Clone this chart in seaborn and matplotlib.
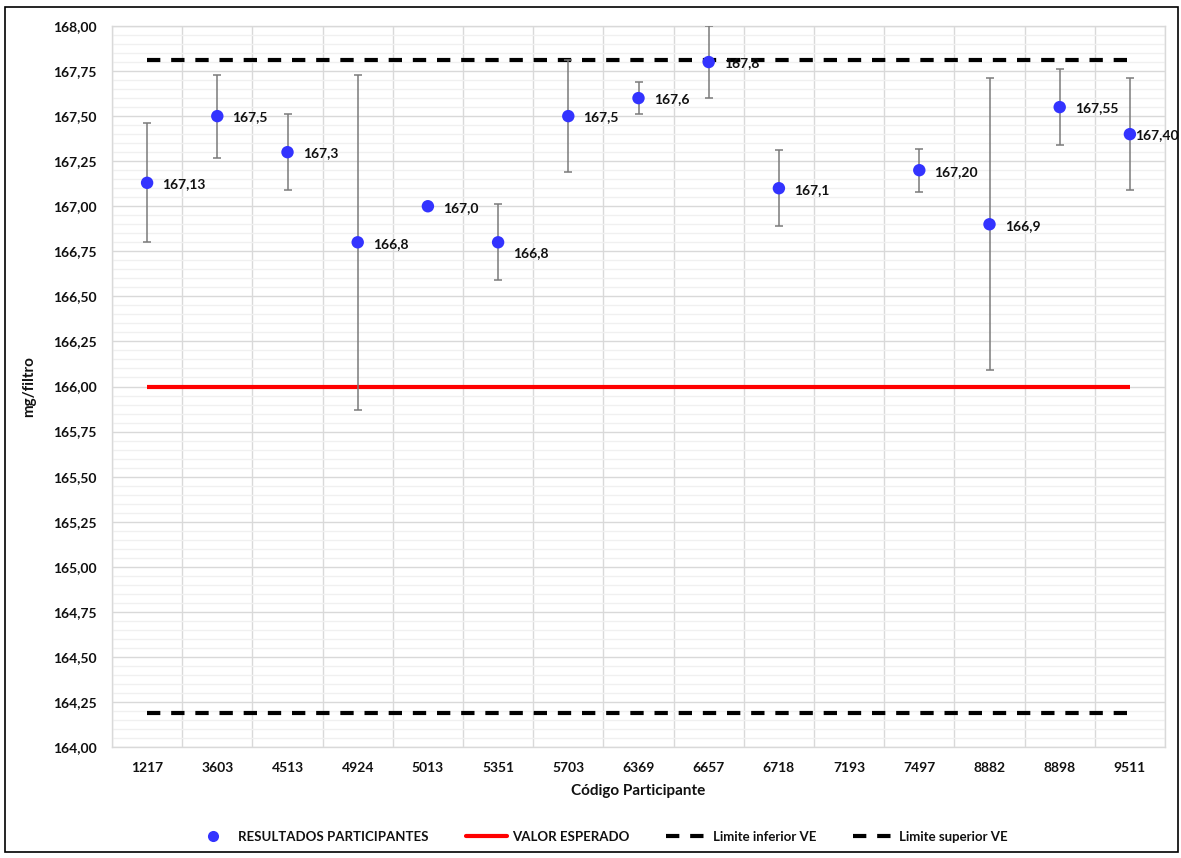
import numpy as np
import pandas as pd
import matplotlib
matplotlib.use("Agg")
import matplotlib.pyplot as plt
import seaborn as sns
from matplotlib.ticker import MultipleLocator, FuncFormatter, FixedLocator
from matplotlib.lines import Line2D
from matplotlib.patches import Rectangle

# ---- data ----
codes = ["1217", "3603", "4513", "4924", "5013", "5351", "5703", "6369",
         "6657", "6718", "7193", "7497", "8882", "8898", "9511"]
results = [167.13, 167.5, 167.3, 166.8, 167.0, 166.8, 167.5, 167.6,
           167.8, 167.1, np.nan, 167.2, 166.9, 167.55, 167.40]
err_low = [166.80, 167.27, 167.09, 165.87, np.nan, 166.59, 167.19, 167.51,
           167.60, 166.89, np.nan, 167.08, 166.09, 167.34, 167.09]
err_high = [167.46, 167.73, 167.51, 167.73, np.nan, 167.01, 167.81, 167.69,
            168.00, 167.31, np.nan, 167.32, 167.71, 167.76, 167.71]
point_labels = ["167,13", "167,5", "167,3", "166,8", "167,0", "166,8", "167,5",
                "167,6", "167,8", "167,1", "", "167,20", "166,9", "167,55", "167,40"]
valor_esperado = 166.00
limite_inferior = 164.19
limite_superior = 167.81

# ---- styling ----
sns.set_theme(style="white")
plt.rcParams['font.family'] = ['Lato', 'DejaVu Sans']
plt.rcParams['font.weight'] = 'bold'

fig = plt.figure(figsize=(11.81, 8.58), dpi=100)
ax = fig.add_axes([112/1181, 1-747/858, (1165-112)/1181, (747-26)/858])

pos = np.arange(len(codes))
df = pd.DataFrame({"pos": pos, "code": codes, "valor": results,
                   "lo": err_low, "hi": err_high})

# reference lines
ve = np.full(len(codes), valor_esperado)
li = np.full(len(codes), limite_inferior)
ls_ = np.full(len(codes), limite_superior)
ax.plot(pos, ve, color="#FF0000", lw=3.0, solid_capstyle="butt", zorder=3)
ax.plot(pos, li, color="black", lw=3.0, dashes=(3.2, 2.6), zorder=3)
ax.plot(pos, ls_, color="black", lw=3.0, dashes=(3.2, 2.6), zorder=3)

# error bars
m = df["lo"].notna()
yerr = np.vstack([(df["valor"] - df["lo"])[m], (df["hi"] - df["valor"])[m]])
ax.errorbar(df["pos"][m], df["valor"][m], yerr=yerr, fmt="none",
            ecolor="#7a7a7a", elinewidth=1.1, capsize=2.7, capthick=1.1, zorder=4)

# points
sns.scatterplot(data=df, x="pos", y="valor", ax=ax, color="#3333FF", s=80,
                edgecolor="none", zorder=5, legend=False)

# data labels
for i, (p, v, t) in enumerate(zip(pos, results, point_labels)):
    if np.isnan(v):
        continue
    dx, dy = 11, -1
    if codes[i] == "5351":
        dy = -8
    if codes[i] == "9511":
        dx = 4
    ax.annotate(t, (p, v), xytext=(dx, dy), textcoords="offset points",
                ha="left", va="center", fontsize=10, fontweight="bold",
                color="#111111", zorder=6)

# axes
ax.set_xlim(-0.5, len(codes) - 0.5)
ax.set_ylim(164.0, 168.0)
ax.yaxis.set_major_locator(MultipleLocator(0.25))
ax.yaxis.set_minor_locator(MultipleLocator(0.05))
ax.yaxis.set_major_formatter(FuncFormatter(lambda v, _: f"{v:.2f}".replace(".", ",")))
ax.set_xticks(pos)
ax.set_xticklabels(codes)
ax.xaxis.set_minor_locator(FixedLocator(np.arange(-0.5, len(codes), 1.0)))

ax.grid(False)
ax.grid(which="major", axis="y", color="#d9d9d9", lw=1.0, zorder=0)
ax.grid(which="minor", axis="y", color="#f0f0f0", lw=1.0, zorder=0)
ax.grid(which="minor", axis="x", color="#d9d9d9", lw=1.0, zorder=0)
ax.set_axisbelow(True)
for s in ax.spines.values():
    s.set_color("#d9d9d9")
    s.set_linewidth(1.0)

ax.tick_params(axis="both", which="both", length=0, labelsize=10, colors="#111111")
ax.tick_params(axis="y", pad=11)
ax.tick_params(axis="x", pad=11)
for lbl in ax.get_xticklabels() + ax.get_yticklabels():
    lbl.set_fontweight("bold")

ax.set_xlabel("Código Participante", fontsize=11, fontweight="bold", color="#111111", labelpad=7)
ax.set_ylabel("mg/filtro", fontsize=11, fontweight="bold", color="#111111", labelpad=12)

# legend
handles = [
    Line2D([], [], marker="o", color="none", markerfacecolor="#3333FF",
           markeredgecolor="none", markersize=8),
    Line2D([], [], color="#FF0000", lw=3.0),
    Line2D([], [], color="black", lw=3.0, dashes=(3.2, 2.6)),
    Line2D([], [], color="black", lw=3.0, dashes=(3.2, 2.6)),
]
labels = ["RESULTADOS PARTICIPANTES", "VALOR ESPERADO",
          "Limite inferior VE", "Limite superior VE"]
leg = fig.legend(handles, labels, loc="center", bbox_to_anchor=(600/1181, 1-837/858),
                 ncol=4, frameon=False, fontsize=9.5, handlelength=3.1,
                 columnspacing=2.8, handletextpad=0.4)
for t in leg.get_texts():
    t.set_fontweight("bold")
    t.set_color("#111111")

# outer border
fig.patches.append(Rectangle((5/1181, 6/858), 1173/1181, 845/858,
                             transform=fig.transFigure, fill=False,
                             edgecolor="black", lw=1.2))

fig.savefig("out.png", dpi=100)
